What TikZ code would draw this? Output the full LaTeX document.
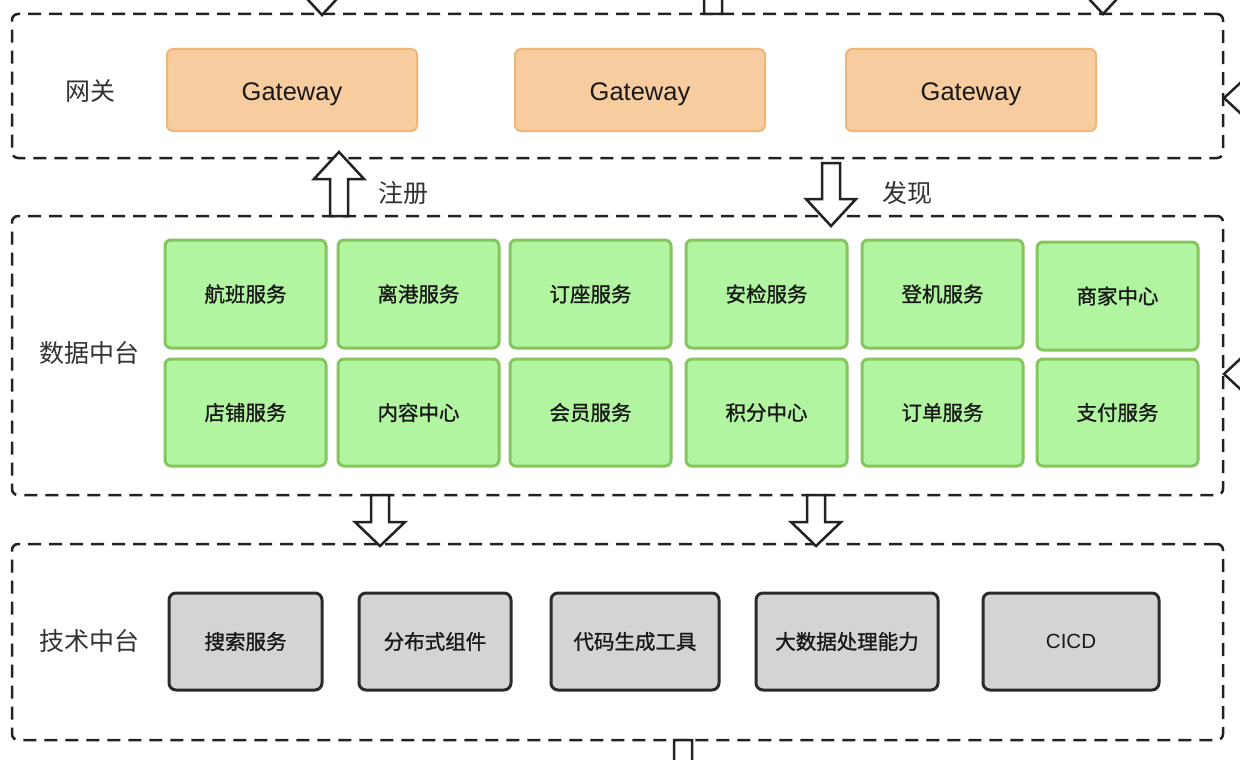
\documentclass[tikz,border=0pt]{standalone}
\usepackage{fontspec}
\setmainfont{Noto Sans CJK SC}
\newfontfamily\cjkb{Noto Sans CJK SC}[FakeBold=1.2]
\newfontfamily\latinf{Liberation Sans}
\definecolor{gwfill}{HTML}{F7CC9E}
\definecolor{gwdraw}{HTML}{F0B678}
\definecolor{gnfill}{HTML}{B2F5A0}
\definecolor{gndraw}{HTML}{84C65C}
\definecolor{gyfill}{HTML}{D4D4D4}
\definecolor{gydraw}{HTML}{2B2B2B}
\definecolor{ink}{HTML}{222222}
\newcommand\blkarr[4]{\draw[arrowline] (#1-9,#2) -- (#1-9,#3) -- (#1-25,#3) -- (#1,#4) -- (#1+25,#3) -- (#1+9,#3) -- (#1+9,#2) -- cycle;}
\newcommand\blkarrh[4]{\draw[arrowline] (#2,#1-9) -- (#3,#1-9) -- (#3,#1-25) -- (#4,#1) -- (#3,#1+25) -- (#3,#1+9) -- (#2,#1+9) -- cycle;}
\begin{document}
\begin{tikzpicture}[x=1pt,y=-1pt,
  layer/.style={draw=ink,line width=2.5pt,dash pattern=on 13pt off 8pt,rounded corners=6pt,minimum width=1211pt},
  gwbox/.style={draw=gwdraw,fill=gwfill,line width=2pt,rounded corners=6pt,minimum width=250pt,minimum height=82pt},
  gwtext/.style={font=\latinf\fontsize{25.5}{28}\selectfont,text=black!90},
  svc/.style={draw=gndraw,fill=gnfill,line width=3pt,rounded corners=6pt,minimum width=161pt,font=\cjkb\fontsize{20.5}{24}\selectfont,text=black!90},
  tech/.style={draw=gydraw,fill=gyfill,line width=3pt,rounded corners=7pt,minimum height=97pt,font=\cjkb\fontsize{20.5}{24}\selectfont,text=black!90},
  lbl/.style={font=\fontsize{25}{28}\selectfont,text=black!80},
  arrowline/.style={draw=ink,fill=white,line width=2.5pt,line join=miter}]
\useasboundingbox (0,0) rectangle (1240,760);
\clip (0,0) rectangle (1240,760);
\fill[white] (0,0) rectangle (1240,760);

% layers
\node[layer,minimum height=144pt] (gwlayer) at (617.5,86) {};
\node[layer,minimum height=279pt] (datalayer) at (617.5,355.5) {};
\node[layer,minimum height=196pt] (techlayer) at (617.5,642) {};

\node[lbl] (l1) at (90,91) {网关};
\node[lbl] (l2) at (89,353) {数据中台};
\node[lbl] (l3) at (89,641) {技术中台};

% gateways
\node[gwbox] (g1) at (292,90) {};
\node[gwbox] (g2) at (640,90) {};
\node[gwbox] (g3) at (971,90) {};
\node[gwtext] (g1t) at ([yshift=-4pt]g1.center) {Gateway};
\node[gwtext] (g2t) at ([yshift=-4pt]g2.center) {Gateway};
\node[gwtext] (g3t) at ([yshift=-4pt]g3.center) {Gateway};

% data services
\node[svc,minimum height=108pt] (s11) at (245.5,294) {航班服务};
\node[svc,minimum height=108pt] (s12) at (418.5,294) {离港服务};
\node[svc,minimum height=108pt] (s13) at (590.5,294) {订座服务};
\node[svc,minimum height=108pt] (s14) at (766.5,294) {安检服务};
\node[svc,minimum height=108pt] (s15) at (942.5,294) {登机服务};
\node[svc,minimum height=108pt] (s16) at (1117.5,296) {商家中心};
\node[svc,minimum height=107pt] (s21) at (245.5,412.5) {店铺服务};
\node[svc,minimum height=107pt] (s22) at (418.5,412.5) {内容中心};
\node[svc,minimum height=107pt] (s23) at (590.5,412.5) {会员服务};
\node[svc,minimum height=107pt] (s24) at (766.5,412.5) {积分中心};
\node[svc,minimum height=107pt] (s25) at (942.5,412.5) {订单服务};
\node[svc,minimum height=107pt] (s26) at (1117.5,412.5) {支付服务};

% tech
\node[tech,minimum width=153pt] (t1) at (245.5,641.5) {搜索服务};
\node[tech,minimum width=152pt] (t2) at (435,641.5) {分布式组件};
\node[tech,minimum width=168pt] (t3) at (635,641.5) {代码生成工具};
\node[tech,minimum width=182pt] (t4) at (847,641.5) {大数据处理能力};
\node[tech,minimum width=176pt] (t5) at (1071,641.5) {\latinf CICD};

% block arrows between layers
\blkarr{339}{216}{179}{152}
\blkarr{831}{163}{199}{226}
\blkarr{380}{495}{522}{546}
\blkarr{816}{495}{522}{546}
\node[lbl,anchor=west] (reg) at (375,193) {注册};
\node[lbl,anchor=west] (disc) at (879,193) {发现};

% partial arrows at the edges
\blkarr{322}{-60}{-12}{15}
\blkarr{1103}{-60}{-13}{14}
\blkarr{713}{14}{-40}{-67}
\blkarrh{98}{1300}{1251}{1224}
\blkarrh{374}{1300}{1251}{1224}
\blkarr{683}{740}{790}{817}
\end{tikzpicture}
\end{document}
